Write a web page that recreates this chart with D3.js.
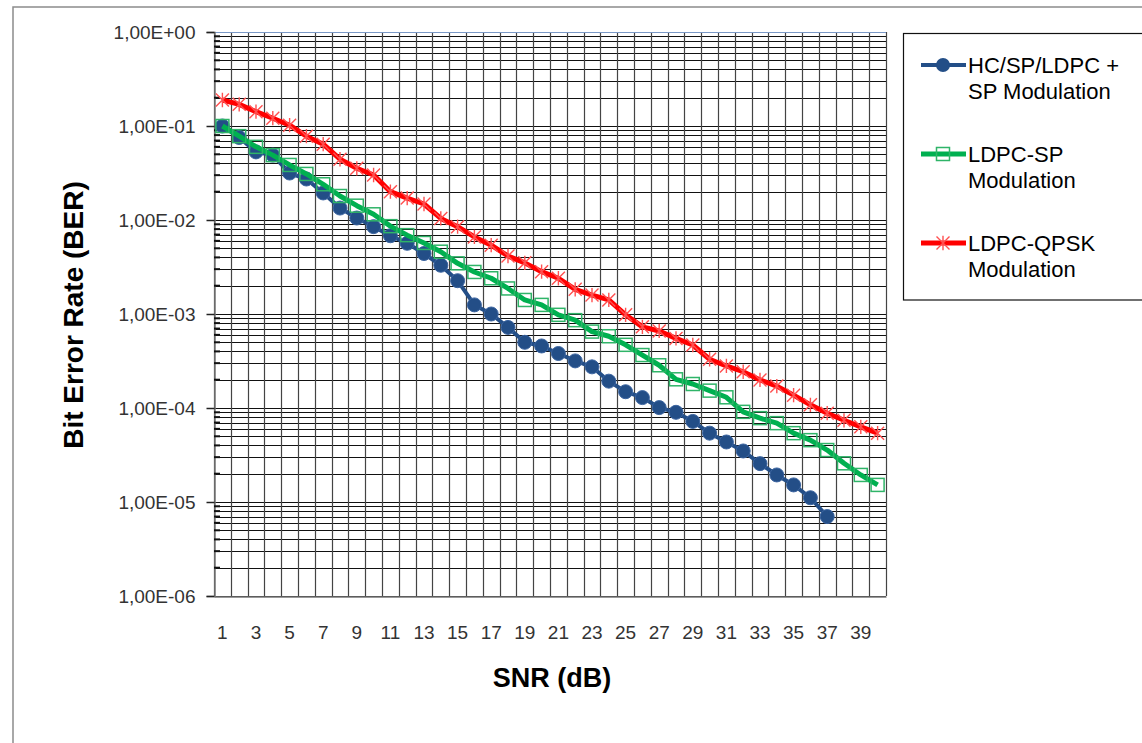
<!DOCTYPE html>
<html><head><meta charset="utf-8">
<script src="https://cdn.jsdelivr.net/npm/d3@7"></script>
<style>
html,body{margin:0;padding:0;background:#fff;}
svg{display:block;}
</style></head>
<body>
<svg id="chart" width="1142" height="743"></svg>
<script>
const snr = [1,2,3,4,5,6,7,8,9,10,11,12,13,14,15,16,17,18,19,20,21,22,23,24,25,26,27,28,29,30,31,32,33,34,35,36,37,38,39,40];
const hcSpLdpc = [0.1,0.0755,0.053,0.049,0.0316,0.0273,0.0194,0.0134,0.0105,0.0085,0.0068,0.00565,0.0044,0.0033,0.00226,0.00125,0.001,0.00072,0.0005,0.000457,0.00038,0.000317,0.000274,0.000193,0.000149,0.000129,0.000101,0.00009,0.000072,0.000054,0.0000435,0.0000349,0.0000256,0.0000194,0.0000152,0.0000111,0.000007];
const ldpcSp = [0.1,0.078,0.06,0.049,0.0385,0.0309,0.024,0.018,0.0142,0.0115,0.0086,0.0069,0.0057,0.0046,0.00346,0.0028,0.0024,0.00187,0.00141,0.00125,0.00098,0.00086,0.00065,0.00058,0.00047,0.000366,0.000285,0.000202,0.00018,0.000153,0.00013,0.000091,0.000078,0.000069,0.000054,0.0000455,0.0000357,0.0000258,0.0000194,0.0000152];
const ldpcQpsk = [0.189,0.17,0.142,0.121,0.102,0.078,0.064,0.0443,0.0355,0.0301,0.02,0.0171,0.0148,0.0104,0.0085,0.0066,0.0054,0.00414,0.0035,0.00282,0.0024,0.00183,0.00159,0.00141,0.00098,0.00073,0.00066,0.00055,0.000468,0.00033,0.00028,0.000243,0.000199,0.000171,0.000137,0.000108,0.000088,0.000074,0.000063,0.000054];
const xTickLabels = ["1","3","5","7","9","11","13","15","17","19","21","23","25","27","29","31","33","35","37","39"];
const yTickValues = [1,1e-1,1e-2,1e-3,1e-4,1e-5,1e-6];
const yTickLabels = ["1,00E+00","1,00E-01","1,00E-02","1,00E-03","1,00E-04","1,00E-05","1,00E-06"];
const seriesNames = [["HC/SP/LDPC +","SP Modulation"],["LDPC-SP","Modulation"],["LDPC-QPSK","Modulation"]];

const svg = d3.select("#chart");
const L = 214, R = 886, T = 32, B = 596;
const x = d3.scaleBand().domain(snr).range([L, R]).padding(0);
const y = d3.scaleLog().domain([1e-6, 1]).range([B, T]);
const cx = d => x(d) + x.bandwidth()/2;

// outer chart border
svg.append("rect").attr("x",13).attr("y",7).attr("width",1160).attr("height",760)
  .attr("fill","#fff").attr("stroke","#8c8c8c").attr("stroke-width",1.5);

// horizontal grid (major + minor)
const gGrid = svg.append("g");
gGrid.selectAll("line.h").data(y.ticks()).join("line")
  .attr("x1",L).attr("x2",R)
  .attr("y1",d=>Math.round(y(d))+0.5).attr("y2",d=>Math.round(y(d))+0.5)
  .attr("stroke","#111").attr("stroke-width",1);
// vertical grid at category boundaries
const bounds = snr.map(d => x(d)).concat([R]);
gGrid.selectAll("line.v").data(bounds).join("line")
  .attr("x1",d=>Math.round(d)+0.5).attr("x2",d=>Math.round(d)+0.5)
  .attr("y1",T).attr("y2",B)
  .attr("stroke","#444").attr("stroke-width",1.2);
// top line
svg.append("line").attr("x1",L).attr("x2",R).attr("y1",T+0.5).attr("y2",T+0.5)
  .attr("stroke","#7a98c6").attr("stroke-width",1.2);

// y axis
const yAxis = d3.axisLeft(y).tickValues(yTickValues).tickSize(8).tickPadding(11)
  .tickFormat((d,i)=>yTickLabels[i]);
const gy = svg.append("g").attr("transform",`translate(${L+0.5},0)`).call(yAxis);
gy.select(".domain").attr("stroke","#777").attr("stroke-width",1.5);
gy.selectAll(".tick line").attr("stroke","#222").attr("stroke-width",1.5);
gy.selectAll(".tick text").attr("font-family","'Liberation Sans', Arial, sans-serif")
  .attr("font-size",19).attr("fill","#333");
// minor ticks inside
const minor = y.ticks().filter(d => yTickValues.indexOf(d) < 0);
svg.append("g").selectAll("line").data(minor).join("line")
  .attr("x1",L).attr("x2",L+6).attr("y1",d=>y(d)).attr("y2",d=>y(d))
  .attr("stroke","#111").attr("stroke-width",2);

// x axis
const xAxis = d3.axisBottom(x).tickValues(snr.filter(d => xTickLabels.indexOf(String(d))>=0))
  .tickSize(0).tickPadding(29);
const gx = svg.append("g").attr("transform",`translate(0,${B+0.5})`).call(xAxis);
gx.select(".domain").attr("stroke","#777").attr("stroke-width",1.5);
gx.selectAll(".tick text").attr("font-family","'Liberation Sans', Arial, sans-serif")
  .attr("font-size",19).attr("fill","#333");

// series
const colBlue = "#234e87", colGreen = "#00b050", colRed = "#ff0000";
const line = d3.line().x((d,i)=>cx(snr[i])).y(d=>y(d));

// blue
svg.append("path").datum(hcSpLdpc).attr("d",line).attr("fill","none")
  .attr("stroke",colBlue).attr("stroke-width",4).attr("stroke-linejoin","round");
svg.append("g").selectAll("circle").data(hcSpLdpc).join("circle")
  .attr("cx",(d,i)=>cx(snr[i])).attr("cy",d=>y(d)).attr("r",7)
  .attr("fill",colBlue).attr("stroke","#3b64a0").attr("stroke-width",1);

// green
svg.append("path").datum(ldpcSp).attr("d",line).attr("fill","none")
  .attr("stroke",colGreen).attr("stroke-width",5).attr("stroke-linejoin","round");
svg.append("g").selectAll("rect").data(ldpcSp).join("rect")
  .attr("x",(d,i)=>cx(snr[i])-6.5).attr("y",d=>y(d)-6.5).attr("width",13).attr("height",13)
  .attr("fill","none").attr("stroke","#2fb468").attr("stroke-width",1.5);

// red
svg.append("path").datum(ldpcQpsk).attr("d",line).attr("fill","none")
  .attr("stroke",colRed).attr("stroke-width",5).attr("stroke-linejoin","round");
const star = (g, px, py, s) => {
  g.append("path").attr("d",`M${px-s},${py-s}L${px+s},${py+s}M${px-s},${py+s}L${px+s},${py-s}M${px},${py-s*1.1}L${px},${py+s*1.1}`)
   .attr("stroke","#ff5050").attr("stroke-width",1.4).attr("fill","none");
};
const gStar = svg.append("g");
ldpcQpsk.forEach((d,i)=>star(gStar, cx(snr[i]), y(d), 6.5));

// axis titles
svg.append("text").attr("x",552).attr("y",687).attr("text-anchor","middle")
  .attr("font-family","'Liberation Sans', Arial, sans-serif").attr("font-weight","bold")
  .attr("font-size",27).attr("fill","#000").text("SNR (dB)");
svg.append("text").attr("transform","translate(83,315) rotate(-90)").attr("text-anchor","middle")
  .attr("font-family","'Liberation Sans', Arial, sans-serif").attr("font-weight","bold")
  .attr("font-size",28).attr("fill","#000").text("Bit Error Rate (BER)");

// legend
svg.append("rect").attr("x",903.5).attr("y",33.5).attr("width",260).attr("height",266.5)
  .attr("fill","#fff").attr("stroke","#111").attr("stroke-width",1.2);
const legY = [65, 154, 243];
const lg = svg.append("g");
const lx1 = 921, lx2 = 966, lmx = 943;
lg.append("line").attr("x1",lx1).attr("x2",lx2).attr("y1",legY[0]).attr("y2",legY[0]).attr("stroke",colBlue).attr("stroke-width",4);
lg.append("circle").attr("cx",lmx).attr("cy",legY[0]).attr("r",7).attr("fill",colBlue);
lg.append("line").attr("x1",lx1).attr("x2",lx2).attr("y1",legY[1]).attr("y2",legY[1]).attr("stroke",colGreen).attr("stroke-width",5);
lg.append("rect").attr("x",lmx-6.5).attr("y",legY[1]-6.5).attr("width",13).attr("height",13).attr("fill","none").attr("stroke","#2fb468").attr("stroke-width",1.5);
lg.append("line").attr("x1",lx1).attr("x2",lx2).attr("y1",legY[2]).attr("y2",legY[2]).attr("stroke",colRed).attr("stroke-width",5);
star(lg, lmx, legY[2], 6.5);
seriesNames.forEach((nm,i)=>{
  const t = lg.append("text").attr("font-family","'Liberation Sans', Arial, sans-serif")
    .attr("font-size",22).attr("fill","#000");
  nm.forEach((s,j)=> t.append("tspan").attr("x",968).attr("y",legY[i]+8+j*25.5).text(s));
});
</script>
</body></html>
